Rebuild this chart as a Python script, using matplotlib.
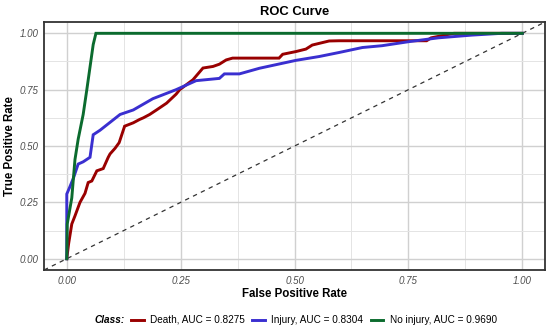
import matplotlib.pyplot as plt
from matplotlib.lines import Line2D

plt.rcParams["font.family"] = ["Liberation Sans", "DejaVu Sans"]

# ROC points
death_fpr = [0.0, 0.004, 0.011, 0.018, 0.029, 0.040, 0.047, 0.055, 0.066, 0.080,
             0.091, 0.095, 0.106, 0.115, 0.127, 0.146, 0.160, 0.168, 0.182, 0.197,
             0.219, 0.240, 0.248, 0.277, 0.299, 0.321, 0.335, 0.350, 0.364, 0.466,
             0.474, 0.503, 0.525, 0.539, 0.576, 0.598, 0.79, 0.80, 0.85, 1.0]
death_tpr = [0.0, 0.066, 0.154, 0.19, 0.25, 0.29, 0.338, 0.345, 0.39, 0.40,
             0.45, 0.465, 0.49, 0.515, 0.588, 0.603, 0.618, 0.625, 0.64, 0.66,
             0.69, 0.73, 0.75, 0.794, 0.846, 0.853, 0.863, 0.882, 0.89, 0.89,
             0.907, 0.919, 0.93, 0.948, 0.966, 0.967, 0.967, 0.98, 1.0, 1.0]

injury_fpr = [0.0, 0.0, 0.007, 0.015, 0.025, 0.036, 0.051, 0.058, 0.073, 0.095,
              0.117, 0.146, 0.189, 0.240, 0.284, 0.335, 0.346, 0.379, 0.423, 0.503,
              0.554, 0.598, 0.649, 0.692, 0.751, 0.816, 0.889, 0.955, 1.0]
injury_tpr = [0.0, 0.287, 0.32, 0.36, 0.42, 0.43, 0.45, 0.55, 0.57, 0.605,
              0.64, 0.66, 0.71, 0.75, 0.79, 0.80, 0.82, 0.82, 0.845, 0.88,
              0.897, 0.915, 0.937, 0.945, 0.963, 0.98, 0.992, 1.0, 1.0]

noinj_fpr = [0.0, 0.001, 0.011, 0.018, 0.025, 0.036, 0.044, 0.051, 0.058, 0.064, 1.0]
noinj_tpr = [0.0, 0.154, 0.27, 0.44, 0.53, 0.64, 0.75, 0.85, 0.95, 1.0, 1.0]

labels = ["Death, AUC = 0.8275", "Injury, AUC = 0.8304", "No injury, AUC = 0.9690"]
colors = ["#990000", "#3A2FD0", "#0B6B2E"]
ticks = [0.0, 0.25, 0.5, 0.75, 1.0]
tick_labels = ["0.00", "0.25", "0.50", "0.75", "1.00"]

fig = plt.figure(figsize=(5.5, 3.34), dpi=100)
ax = fig.add_axes([0.08, 0.1916, 0.911, 0.7424])

ax.plot([-0.05, 1.05], [-0.05, 1.05], color="#333333", lw=0.9,
        dashes=(3.5, 3.5), zorder=2)
curves = [(death_fpr, death_tpr), (injury_fpr, injury_tpr), (noinj_fpr, noinj_tpr)]
for (fx, fy), c in zip(curves, colors):
    ax.plot(fx, fy, color=c, lw=2.1, zorder=3, solid_joinstyle="miter")

ax.set_xlim(-0.05, 1.05)
ax.set_ylim(-0.05, 1.05)
ax.set_xticks(ticks)
ax.set_xticklabels(tick_labels)
ax.set_yticks(ticks)
ax.set_yticklabels(tick_labels)
ax.set_xticks([0.125, 0.375, 0.625, 0.875], minor=True)
ax.set_yticks([0.125, 0.375, 0.625, 0.875], minor=True)
ax.grid(which="major", color="#D0D0D0", lw=1.0, zorder=0)
ax.grid(which="minor", color="#E4E4E4", lw=0.7, zorder=0)
ax.set_axisbelow(True)
ax.tick_params(which="both", length=0, labelsize=7, labelcolor="#4D4D4D", pad=4)
for lab in ax.get_xticklabels() + ax.get_yticklabels():
    lab.set_style("italic")
for s in ax.spines.values():
    s.set_color("#333333")
    s.set_linewidth(1.3)

ax.set_xlabel("False Positive Rate", fontsize=8.3, fontweight="bold", labelpad=2)
ax.set_ylabel("True Positive Rate", fontsize=8.3, fontweight="bold")
ax.yaxis.set_label_coords(-0.056, 0.5)
ax.set_title("ROC Curve", fontsize=9.4, fontweight="bold", pad=5)

handles = [Line2D([], [], color=c, lw=2.1) for c in colors]
fig.text(125 / 550, 1 - 320 / 334, "Class:", fontsize=7.2, fontweight="bold",
         style="italic", ha="right", va="center")
fig.legend(handles, labels, loc="center left", bbox_to_anchor=(131 / 550, 1 - 320 / 334),
           ncol=3, frameon=False, fontsize=7.2, handlelength=1.25,
           handletextpad=0.65, columnspacing=0.75, borderaxespad=0, borderpad=0)

fig.savefig("out.png", dpi=100)
